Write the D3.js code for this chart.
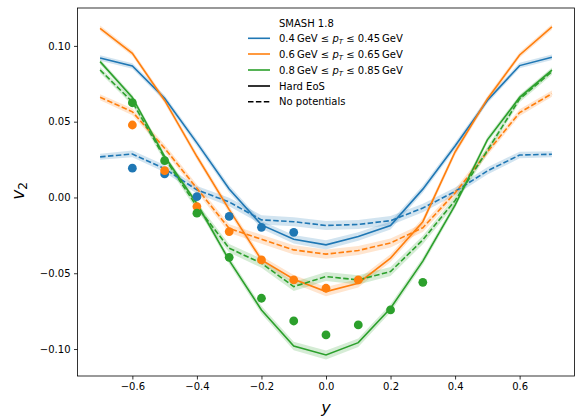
<!DOCTYPE html>
<html><head><meta charset="utf-8">
<script src="https://cdn.jsdelivr.net/npm/d3@7"></script>
<style>
body{margin:0;background:#fff;}
svg{display:block;font-family:"DejaVu Sans",sans-serif;}
</style></head>
<body><svg id="c" width="576" height="418"></svg>
<script>
// rapidity grid
const rapidity = [-0.7,-0.6,-0.5,-0.4,-0.3,-0.2,-0.1,0.0,0.1,0.2,0.3,0.4,0.5,0.6,0.7];
// SMASH Hard EoS
const blueHard   = [0.0920,0.0867,0.0655,0.0360,0.0056,-0.0181,-0.0276,-0.0313,-0.0258,-0.0185,0.0055,0.0340,0.0640,0.0870,0.0925];
const orangeHard = [0.1116,0.0951,0.0640,0.0270,-0.0080,-0.0412,-0.0540,-0.0621,-0.0566,-0.0400,-0.0160,0.0300,0.0650,0.0940,0.1125];
const greenHard  = [0.0896,0.0660,0.0270,-0.0040,-0.0415,-0.0742,-0.0980,-0.1039,-0.0958,-0.0731,-0.0420,-0.0050,0.0380,0.0660,0.0840];
// SMASH no potentials
const blueNoPot   = [0.0268,0.0287,0.0190,0.0050,-0.0030,-0.0148,-0.0160,-0.0185,-0.0178,-0.0153,-0.0070,0.0040,0.0175,0.0280,0.0285];
const orangeNoPot = [0.0661,0.0565,0.0325,0.0060,-0.0205,-0.0276,-0.0346,-0.0374,-0.0350,-0.0300,-0.0200,0.0030,0.0300,0.0560,0.0685];
const greenNoPot  = [0.0841,0.0630,0.0260,-0.0060,-0.0335,-0.0434,-0.0588,-0.0522,-0.0544,-0.0489,-0.0280,-0.0020,0.0310,0.0650,0.0830];
// statistical band half-widths
const errHard  = [0.0018,0.0018,0.0020,0.0022,0.0024,0.0026,0.0028,0.0030,0.0028,0.0026,0.0024,0.0022,0.0020,0.0018,0.0018];
const errNoPot = [0.0020,0.0022,0.0024,0.0026,0.0028,0.0030,0.0030,0.0030,0.0030,0.0030,0.0028,0.0026,0.0024,0.0022,0.0020];
// measured points
const blueDataX   = [-0.6,-0.5,-0.4,-0.3,-0.2,-0.1];
const blueData    = [0.0193,0.0155,0.0005,-0.0125,-0.0197,-0.0230];
const orangeDataX = [-0.6,-0.5,-0.4,-0.3,-0.2,-0.1,0.0,0.1];
const orangeData  = [0.0478,0.0177,-0.0060,-0.0225,-0.0412,-0.0544,-0.0599,-0.0544];
const greenDataX  = [-0.6,-0.5,-0.4,-0.3,-0.2,-0.1,0.0,0.1,0.2,0.3];
const greenData   = [0.0625,0.0243,-0.0104,-0.0395,-0.0665,-0.0815,-0.0907,-0.0841,-0.0742,-0.0560];
// ticks
const xTicks = [-0.6,-0.4,-0.2,0.0,0.2,0.4,0.6];
const yTicks = [-0.10,-0.05,0.00,0.05,0.10];
const colors = ["#1f77b4","#ff7f0e","#2ca02c"];
const legendLabels = [["0.4","0.45"],["0.6","0.65"],["0.8","0.85"]];

const svg = d3.select("#c");
const L=77.5, R=574.5, T=8, B=376;
const x = d3.scaleLinear().domain([-0.77,0.77]).range([L,R]);
const y = d3.scaleLinear().domain([-0.1178,0.125]).range([B,T]);

const g = svg.append("g");
svg.append("clipPath").attr("id","cp").append("rect").attr("x",L).attr("y",T).attr("width",R-L).attr("height",B-T);
const plot = g.append("g").attr("clip-path","url(#cp)");

const series = [
  {v:blueHard, e:errHard, c:colors[0], dash:null},
  {v:blueNoPot, e:errNoPot, c:colors[0], dash:"5.5,2.4"},
  {v:orangeHard, e:errHard, c:colors[1], dash:null},
  {v:orangeNoPot, e:errNoPot, c:colors[1], dash:"5.5,2.4"},
  {v:greenHard, e:errHard, c:colors[2], dash:null},
  {v:greenNoPot, e:errNoPot, c:colors[2], dash:"5.5,2.4"}
];
const line = d3.line().x((d,i)=>x(rapidity[i])).y(d=>y(d));
series.forEach(s=>{
  plot.append("path").datum(s.v)
    .attr("d", d3.area().x((d,i)=>x(rapidity[i])).y0((d,i)=>y(d-s.e[i])).y1((d,i)=>y(d+s.e[i])))
    .attr("fill",s.c).attr("fill-opacity",0.2).attr("stroke","none");
});
series.forEach(s=>{
  plot.append("path").datum(s.v).attr("d",line)
    .attr("fill","none").attr("stroke",s.c).attr("stroke-width",1.6)
    .attr("stroke-dasharray",s.dash);
});
[[blueDataX,blueData,colors[0]],[orangeDataX,orangeData,colors[1]],[greenDataX,greenData,colors[2]]].forEach(([xs,vs,c])=>{
  plot.selectAll(null).data(vs).enter().append("circle")
    .attr("cx",(d,i)=>x(xs[i])).attr("cy",d=>y(d)).attr("r",4.4).attr("fill",c);
});

// axes
const fmtX = d=> d3.format(".1f")(d).replace("-","\u2212");
const fmtY = d=> d3.format(".2f")(d).replace("-","\u2212");
const xAxis = g.append("g").attr("transform",`translate(0,${B})`)
  .call(d3.axisBottom(x).tickValues(xTicks).tickFormat(fmtX).tickSize(3.5).tickPadding(3.5));
const yAxis = g.append("g").attr("transform",`translate(${L},0)`)
  .call(d3.axisLeft(y).tickValues(yTicks).tickFormat(fmtY).tickSize(3.5).tickPadding(3.5));
[xAxis,yAxis].forEach(a=>{
  a.select(".domain").remove();
  a.selectAll("line").attr("stroke","#000").attr("stroke-width",0.8);
  a.selectAll("text").attr("font-size",10).attr("fill","#000").attr("font-family","DejaVu Sans");
});
g.append("rect").attr("x",L).attr("y",T).attr("width",R-L).attr("height",B-T)
  .attr("fill","none").attr("stroke","#000").attr("stroke-width",0.8);

// axis labels
svg.append("text").attr("x",x(0)).attr("y",413).attr("text-anchor","middle")
  .attr("font-size",16).attr("font-style","italic").text("y");
const yl = svg.append("text").attr("transform",`translate(23.5,191) rotate(-90)`).attr("text-anchor","middle")
  .attr("font-size",17);
yl.append("tspan").attr("font-style","italic").text("v");
yl.append("tspan").attr("font-size",12).attr("dy",3).text("2");

// legend
const lg = svg.append("g");
lg.append("text").attr("x",279).attr("y",26.5).attr("font-size",10).text("SMASH 1.8");
const rowsY = [38.3,54,70,86,101.7];
legendLabels.forEach((lab,i)=>{
  const yy=rowsY[i];
  lg.append("line").attr("x1",248).attr("x2",270).attr("y1",yy).attr("y2",yy).attr("stroke",colors[i]).attr("stroke-width",1.6);
  const t = lg.append("text").attr("x",279).attr("y",yy+3.6).attr("font-size",10);
  t.append("tspan").text(lab[0]+"\u2009GeV \u2264 ");
  t.append("tspan").attr("font-style","italic").text("p");
  t.append("tspan").attr("font-style","italic").attr("font-size",7).attr("dy",2).text("T");
  t.append("tspan").attr("dy",-2).text(" \u2264 "+lab[1]+"\u2009GeV");
});
lg.append("line").attr("x1",248).attr("x2",270).attr("y1",rowsY[3]).attr("y2",rowsY[3]).attr("stroke","#000").attr("stroke-width",1.6);
lg.append("text").attr("x",279).attr("y",rowsY[3]+3.6).attr("font-size",10).text("Hard EoS");
lg.append("line").attr("x1",248).attr("x2",270).attr("y1",rowsY[4]).attr("y2",rowsY[4]).attr("stroke","#000").attr("stroke-width",1.6).attr("stroke-dasharray","5.5,2.4");
lg.append("text").attr("x",279).attr("y",rowsY[4]+3.6).attr("font-size",10).text("No potentials");
</script></body></html>
